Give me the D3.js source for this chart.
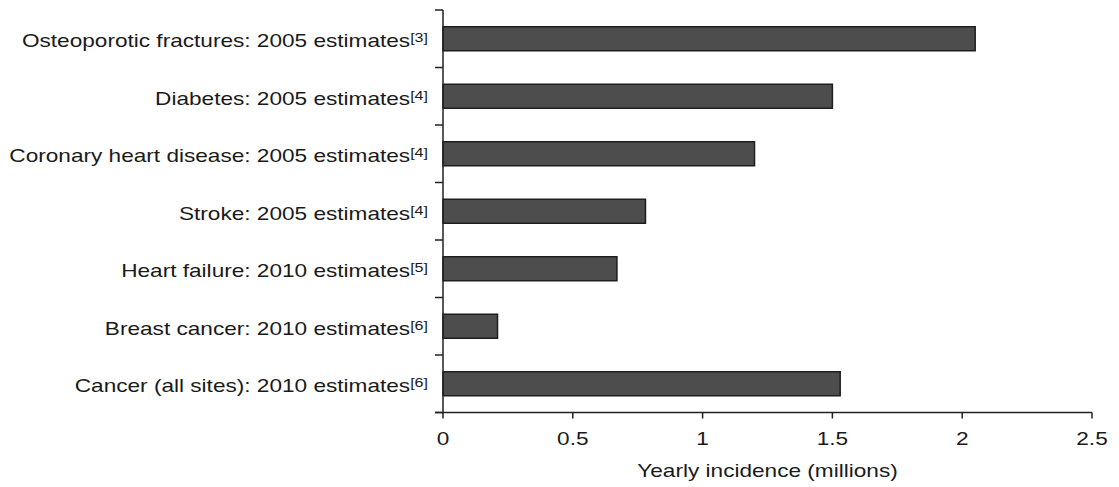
<!DOCTYPE html>
<html><head><meta charset="utf-8">
<script src="https://cdn.jsdelivr.net/npm/d3@7"></script>
<style>body{margin:0;background:#fff}svg{display:block}text{font-family:"Liberation Sans",Arial,sans-serif;fill:#1a1a1a}</style>
</head><body><svg id="c" width="1119" height="487"></svg>
<script>
const categories = ["Osteoporotic fractures: 2005 estimates","Diabetes: 2005 estimates","Coronary heart disease: 2005 estimates","Stroke: 2005 estimates","Heart failure: 2010 estimates","Breast cancer: 2010 estimates","Cancer (all sites): 2010 estimates"];
const refs = ["[3]","[4]","[4]","[4]","[5]","[6]","[6]"];
const values = [2.05, 1.5, 1.2, 0.78, 0.67, 0.21, 1.53];
const xTicks = [0, 0.5, 1, 1.5, 2, 2.5];
const xTickLabels = ["0","0.5","1","1.5","2","2.5"];
const xTitle = "Yearly incidence (millions)";

const svg = d3.select("#c");
const x0 = 443, x1 = 1092, yTop = 10, yBot = 412.5;
const sx = 1.19, fs = 19;
const x = d3.scaleLinear().domain([0, 2.5]).range([x0, x1]);
const y = d3.scaleBand().domain(categories).range([yTop, yBot]).paddingInner(0.58).paddingOuter(0.29);
const step = y.step();
const barH = 24;

// bars
svg.selectAll("rect.bar").data(values).join("rect")
  .attr("x", x(0)).attr("y", (d,i)=> y(categories[i]) + y.bandwidth()/2 - barH/2)
  .attr("width", d => x(d) - x(0)).attr("height", barH)
  .attr("fill", "#4d4d4d").attr("stroke", "#1e1e1e").attr("stroke-width", 1.5);

// axes
const ax = svg.append("g").attr("stroke", "#222").attr("stroke-width", 1.5);
ax.append("line").attr("x1", x0).attr("x2", x0).attr("y1", yTop).attr("y2", yBot + 1);
const bounds = d3.range(categories.length + 1).map(i => yTop + i * step);
ax.selectAll("line.yt").data(bounds).join("line")
  .attr("x1", x0 - 8).attr("x2", x0).attr("y1", d=>d).attr("y2", d=>d);
ax.append("line").attr("x1", x0 - 8).attr("x2", x1).attr("y1", yBot).attr("y2", yBot);
ax.selectAll("line.xt").data(xTicks).join("line")
  .attr("x1", d=>x(d)).attr("x2", d=>x(d)).attr("y1", yBot).attr("y2", yBot + 6);

svg.selectAll("text.xl").data(xTicks).join("text")
  .attr("transform", d => `translate(${x(d)},445) scale(${sx},1)`)
  .attr("text-anchor","middle").attr("font-size", fs).text((d,i)=>xTickLabels[i]);
svg.append("text").attr("transform", `translate(${(x0+x1)/2},477) scale(${sx},1)`)
  .attr("text-anchor","middle").attr("font-size", fs).text(xTitle);

// category labels
const lab = svg.selectAll("text.cl").data(categories).join("text")
  .attr("transform", d => `translate(428,${y(d) + y.bandwidth()/2 + 8.5}) scale(${sx},1)`)
  .attr("text-anchor","end").attr("font-size", fs);
lab.append("tspan").text(d=>d);
lab.append("tspan").attr("font-size", 13.5).attr("dy", -5).text((d,i)=>refs[i]);
</script></body></html>
